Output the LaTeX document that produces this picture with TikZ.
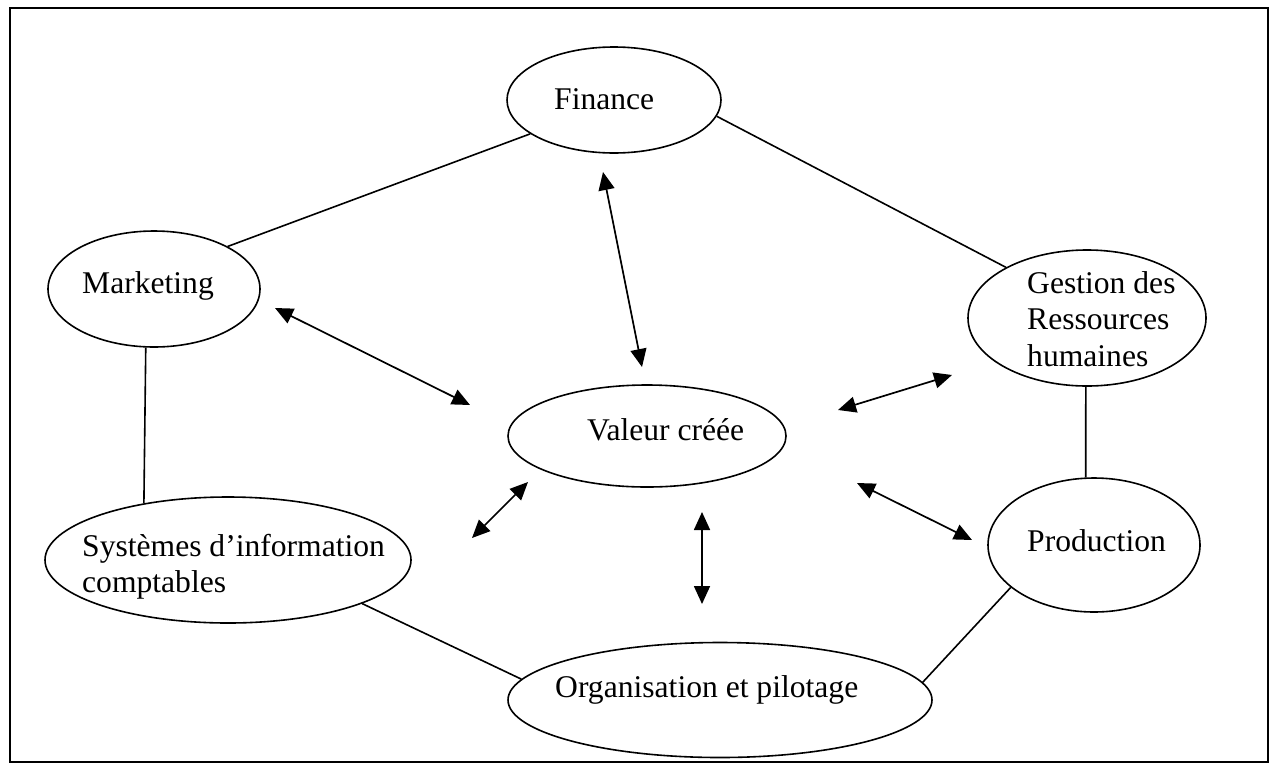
\documentclass[tikz,border=0pt]{standalone}
\usepackage{fontspec}
\setmainfont{Liberation Serif}
\usetikzlibrary{shapes.geometric,arrows.meta}
\begin{document}
\begin{tikzpicture}[x=1pt,y=-1pt,
  bubble/.style={draw, ellipse, line width=1.6pt, inner sep=0pt},
  lbl/.style={anchor=base west, inner sep=0pt, font=\fontsize{31.6}{36.5}\selectfont},
  lblm/.style={anchor=north west, inner sep=0pt, align=left, font=\fontsize{31.6}{36.5}\selectfont},
  link/.style={line width=1.6pt},
  biarrow/.style={line width=1.7pt, {Triangle[length=18pt,width=16pt]}-{Triangle[length=18pt,width=16pt]}}
]
\useasboundingbox (0,0) rectangle (1281,774);
\draw[line width=1.6pt] (10,8) rectangle (1268,762);

% ellipses
\node[bubble, minimum width=214pt, minimum height=106pt] (fin)  at (614,100) {};
\node[bubble, minimum width=212pt, minimum height=116pt] (mkt)  at (154,289) {};
\node[bubble, minimum width=238pt, minimum height=136pt] (grh)  at (1087,318) {};
\node[bubble, minimum width=278pt, minimum height=102pt] (val)  at (647,436) {};
\node[bubble, minimum width=366pt, minimum height=126pt] (sic)  at (228,560) {};
\node[bubble, minimum width=212pt, minimum height=134pt] (prod) at (1094,545) {};
\node[bubble, minimum width=424pt, minimum height=115pt] (org)  at (720,700) {};

% texts
\node[lbl] (tfin)  at (554,109) {Finance};
\node[lbl] (tmkt)  at (82,293) {Marketing};
\node[lblm] (tgrh) at (1027,271) {Gestion des\\Ressources\\humaines};
\node[lbl] (tval)  at (587,440) {Valeur créée};
\node[lblm] (tsic) at (82,534) {Systèmes d’information\\comptables};
\node[lbl] (tprod) at (1027,551) {Production};
\node[lbl] (torg)  at (555,697) {Organisation et pilotage};

% plain links
\draw[link] (fin.202.6) -- (mkt.30);
\draw[link] (fin.-9) -- (grh.148.6);
\draw[link] (mkt.262) -- (sic.146);
\draw[link] (grh.269) -- (prod.97.7);
\draw[link] (sic.-18.7) -- (org.174.6);
\draw[link] (prod.207) -- (org.5.9);

% free arrow ends
\coordinate (a1s) at (603,172); \coordinate (a1e) at (642,367);
\coordinate (a2s) at (275,308); \coordinate (a2e) at (470,405);
\coordinate (a3s) at (838,410); \coordinate (a3e) at (952,375);
\coordinate (a4s) at (472,538); \coordinate (a4e) at (528,482);
\coordinate (a5s) at (702,512); \coordinate (a5e) at (702,604);
\coordinate (a6s) at (857,483); \coordinate (a6e) at (972,540);

\draw[biarrow] (a1s) -- (a1e);
\draw[biarrow] (a2s) -- (a2e);
\draw[biarrow] (a3s) -- (a3e);
\draw[biarrow] (a4s) -- (a4e);
\draw[biarrow] (a5s) -- (a5e);
\draw[biarrow] (a6s) -- (a6e);
\end{tikzpicture}
\end{document}
